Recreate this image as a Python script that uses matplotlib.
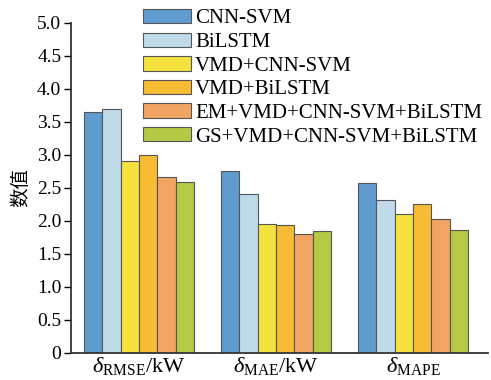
import matplotlib
matplotlib.use("Agg")
import matplotlib.pyplot as plt
import numpy as np

plt.rcParams['font.family'] = ['Liberation Serif', 'Noto Sans CJK SC']
plt.rcParams['mathtext.fontset'] = 'custom'
plt.rcParams['mathtext.rm'] = 'Liberation Serif'
plt.rcParams['mathtext.it'] = 'Liberation Serif:italic'

categories = [r'$\delta_{\mathrm{RMSE}}$/kW', r'$\delta_{\mathrm{MAE}}$/kW', r'$\delta_{\mathrm{MAPE}}$']
series_names = ['CNN-SVM', 'BiLSTM', 'VMD+CNN-SVM', 'VMD+BiLSTM',
                'EM+VMD+CNN-SVM+BiLSTM', 'GS+VMD+CNN-SVM+BiLSTM']
cnn_svm = [3.65, 2.75, 2.58]
bilstm = [3.69, 2.40, 2.31]
vmd_cnn_svm = [2.91, 1.95, 2.10]
vmd_bilstm = [3.00, 1.93, 2.26]
em_vmd = [2.67, 1.80, 2.03]
gs_vmd = [2.59, 1.85, 1.86]
values = [cnn_svm, bilstm, vmd_cnn_svm, vmd_bilstm, em_vmd, gs_vmd]
colors = ['#5F9BCF', '#BFDAE8', '#F6E23E', '#F7BC33', '#F2A562', '#B6C945']
y_ticks = [0, 0.5, 1.0, 1.5, 2.0, 2.5, 3.0, 3.5, 4.0, 4.5, 5.0]
y_ticklabels = ['0', '0.5', '1.0', '1.5', '2.0', '2.5', '3.0', '3.5', '4.0', '4.5', '5.0']

fig = plt.figure(figsize=(4.91, 3.8), dpi=100)
ax = fig.add_axes([0.1446, 0.0718, 0.994 - 0.1446, 0.9395 - 0.0718])

x = np.arange(len(categories))
w = 0.134
for i, (vals, c, name) in enumerate(zip(values, colors, series_names)):
    ax.bar(x + (i - 2.5) * w, vals, width=w, color=c, edgecolor='#555555',
           linewidth=0.8, label=name)

ax.set_xlim(-0.497, 2.547)
ax.set_ylim(0, 5.0)
ax.set_yticks(y_ticks)
ax.set_yticklabels(y_ticklabels, fontsize=14)
ax.set_xticks(x)
ax.set_xticklabels(categories, fontsize=16)
ax.tick_params(axis='x', length=0, pad=2)
ax.tick_params(axis='y', direction='out', length=5, width=1, pad=2)
for s in ['top', 'right']:
    ax.spines[s].set_visible(False)
for s in ['left', 'bottom']:
    ax.spines[s].set_linewidth(1.3)
    ax.spines[s].set_color('#333333')
ax.set_ylabel('数值', fontsize=14, family=['Noto Sans CJK SC'], labelpad=4)

fig.legend(loc='upper left', bbox_to_anchor=(143 / 491, 1 - 9 / 380),
           frameon=False, fontsize=15, handlelength=2.3, handleheight=0.68,
           handletextpad=0.2, labelspacing=0.2, borderpad=0, borderaxespad=0)

fig.savefig('out.png', dpi=100)
